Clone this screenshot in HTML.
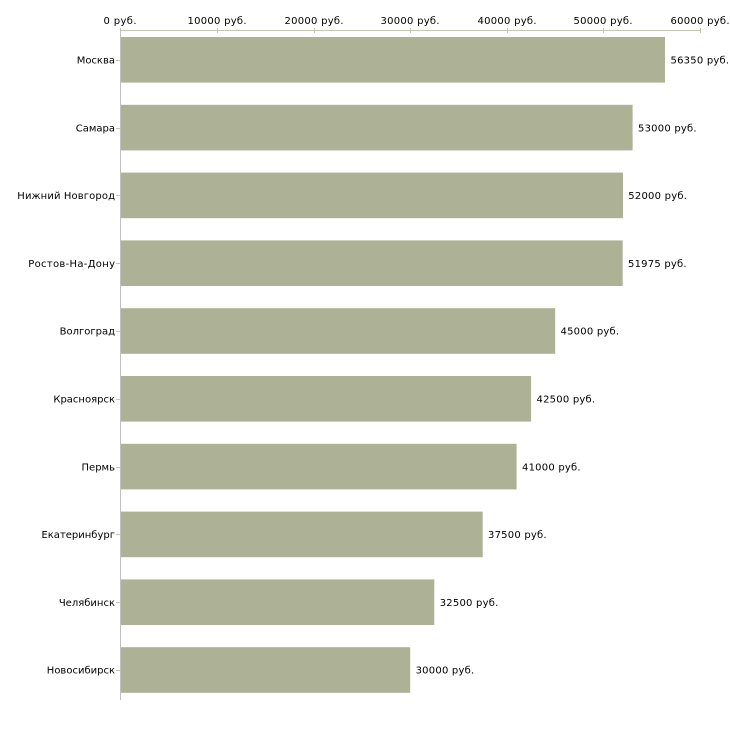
<!DOCTYPE html>
<html><head><meta charset="utf-8"><style>
html,body{margin:0;padding:0;background:#fff;}
svg{display:block;}
text{font-family:"DejaVu Sans","Liberation Sans",sans-serif;font-size:10px;fill:#000;}
</style></head><body>
<svg width="730" height="730" viewBox="0 0 730 730" xmlns="http://www.w3.org/2000/svg">
<rect width="730" height="730" fill="#fff"/>
<!-- top axis -->
<line x1="120" y1="30.5" x2="701" y2="30.5" stroke="#c4c6b4" stroke-width="1"/>
<g stroke="#c2c8a4" stroke-width="1">
<line x1="120.5" y1="28" x2="120.5" y2="33"/>
<line x1="217.5" y1="28" x2="217.5" y2="33"/>
<line x1="314.5" y1="28" x2="314.5" y2="33"/>
<line x1="410.5" y1="28" x2="410.5" y2="33"/>
<line x1="507.5" y1="28" x2="507.5" y2="33"/>
<line x1="603.5" y1="28" x2="603.5" y2="33"/>
<line x1="700.5" y1="28" x2="700.5" y2="33"/>
</g>
<g text-anchor="middle">
<text x="120" y="24" textLength="33" lengthAdjust="spacing">0 руб.</text>
<text x="217" y="24" textLength="59" lengthAdjust="spacing">10000 руб.</text>
<text x="314" y="24" textLength="59" lengthAdjust="spacing">20000 руб.</text>
<text x="410" y="24" textLength="59" lengthAdjust="spacing">30000 руб.</text>
<text x="507" y="24" textLength="59" lengthAdjust="spacing">40000 руб.</text>
<text x="603" y="24" textLength="59" lengthAdjust="spacing">50000 руб.</text>
<text x="700" y="24" textLength="59" lengthAdjust="spacing">60000 руб.</text>
</g>
<!-- bars -->
<g fill="#adb297">
<rect x="121" y="37" width="544" height="45.6"/>
<rect x="121" y="104.8" width="511.6" height="45.6"/>
<rect x="121" y="172.6" width="502" height="45.6"/>
<rect x="121" y="240.4" width="501.7" height="45.6"/>
<rect x="121" y="308.2" width="434.2" height="45.6"/>
<rect x="121" y="376" width="410.1" height="45.6"/>
<rect x="121" y="443.8" width="395.6" height="45.6"/>
<rect x="121" y="511.6" width="361.7" height="45.6"/>
<rect x="121" y="579.4" width="313.3" height="45.6"/>
<rect x="121" y="647.2" width="289.2" height="45.6"/>
</g>
<!-- left axis -->
<line x1="120.5" y1="30" x2="120.5" y2="700" stroke="#c0c0c0" stroke-width="1"/>
<g stroke="#c2c8a4" stroke-width="1">
<line x1="116" y1="60.5" x2="120" y2="60.5"/>
<line x1="116" y1="128.5" x2="120" y2="128.5"/>
<line x1="116" y1="195.5" x2="120" y2="195.5"/>
<line x1="116" y1="263.5" x2="120" y2="263.5"/>
<line x1="116" y1="331.5" x2="120" y2="331.5"/>
<line x1="116" y1="399.5" x2="120" y2="399.5"/>
<line x1="116" y1="467.5" x2="120" y2="467.5"/>
<line x1="116" y1="534.5" x2="120" y2="534.5"/>
<line x1="116" y1="602.5" x2="120" y2="602.5"/>
<line x1="116" y1="670.5" x2="120" y2="670.5"/>
</g>
<g text-anchor="end">
<text x="115" y="63.5">Москва</text>
<text x="115" y="131.3">Самара</text>
<text x="115" y="199.1" textLength="97.7" lengthAdjust="spacing">Нижний Новгород</text>
<text x="115" y="266.9" textLength="86.7" lengthAdjust="spacing">Ростов-На-Дону</text>
<text x="115" y="334.7">Волгоград</text>
<text x="115" y="402.5">Красноярск</text>
<text x="115" y="470.3">Пермь</text>
<text x="115" y="538.1">Екатеринбург</text>
<text x="115" y="605.9">Челябинск</text>
<text x="115" y="673.7">Новосибирск</text>
</g>
<g>
<text x="670.5" y="63.5" textLength="58.6" lengthAdjust="spacing">56350 руб.</text>
<text x="638" y="131.3" textLength="58.6" lengthAdjust="spacing">53000 руб.</text>
<text x="628.3" y="199.1" textLength="58.6" lengthAdjust="spacing">52000 руб.</text>
<text x="628" y="266.9" textLength="58.6" lengthAdjust="spacing">51975 руб.</text>
<text x="560.5" y="334.7" textLength="58.6" lengthAdjust="spacing">45000 руб.</text>
<text x="536.5" y="402.5" textLength="58.6" lengthAdjust="spacing">42500 руб.</text>
<text x="522" y="470.3" textLength="58.6" lengthAdjust="spacing">41000 руб.</text>
<text x="488" y="538.1" textLength="58.6" lengthAdjust="spacing">37500 руб.</text>
<text x="439.7" y="605.9" textLength="58.6" lengthAdjust="spacing">32500 руб.</text>
<text x="415.6" y="673.7" textLength="58.6" lengthAdjust="spacing">30000 руб.</text>
</g>
</svg>
</body></html>
